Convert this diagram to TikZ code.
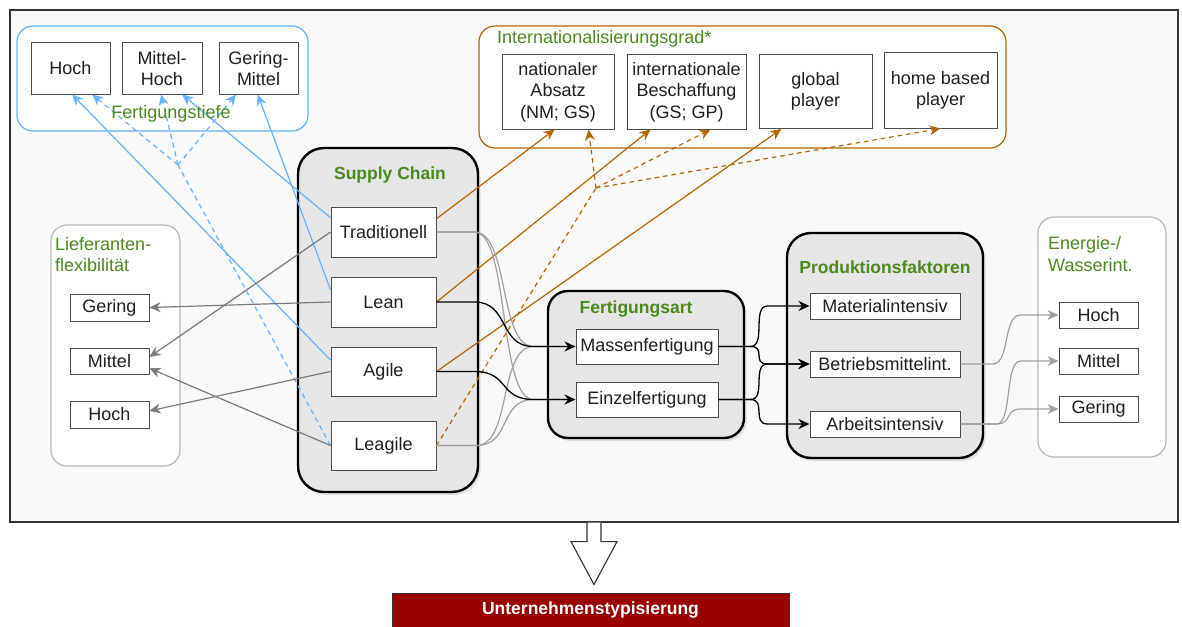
\documentclass[tikz,border=0pt]{standalone}
\usepackage{fontspec}
\setmainfont{Liberation Sans}
\usetikzlibrary{arrows.meta,calc,shadows}

\definecolor{frameFill}{HTML}{F9F9F9}
\definecolor{grpGreen}{HTML}{4A8A1E}
\definecolor{tiefeBlue}{HTML}{66B2FF}
\definecolor{intOrange}{HTML}{B46504}
\definecolor{lineGray}{HTML}{7A7A7A}
\definecolor{lightGray}{HTML}{A0A0A0}
\definecolor{grpBorder}{HTML}{B8B8B8}
\definecolor{scFill}{HTML}{E6E6E6}
\definecolor{boxText}{HTML}{1F1F1F}
\definecolor{resultRed}{HTML}{990000}

\tikzset{
  sz/.style 2 args={minimum width=#1pt, minimum height=#2pt},
  box/.style={draw=black!70, line width=1pt, fill=white, inner sep=1pt, align=center,
    text=boxText, font=\fontsize{18}{21.5}\selectfont},
  grpThin/.style={rounded corners=16pt, line width=1.2pt, fill=white, inner sep=0pt},
  grpThick/.style={rounded corners=24pt, draw=black, line width=2.4pt, fill=scFill, inner sep=0pt,
    drop shadow={shadow xshift=2.5pt, shadow yshift=-3pt, opacity=0.2}},
  grpTitle/.style={text=grpGreen, font=\bfseries\fontsize{17.5}{21}\selectfont, inner sep=0pt},
  grpLabel/.style={text=grpGreen, font=\fontsize{18}{21.5}\selectfont, inner sep=0pt, align=left},
  tip/.style={-{Stealth[length=11pt,width=10pt,inset=3.5pt]}},
  blueLine/.style={draw=tiefeBlue, line width=1.2pt},
  blueDash/.style={blueLine, dash pattern=on 5pt off 4pt},
  orangeLine/.style={draw=intOrange, line width=1.2pt},
  orangeDash/.style={orangeLine, dash pattern=on 4.5pt off 4pt},
  grayLine/.style={draw=lineGray, line width=1.2pt},
  softLine/.style={draw=lightGray, line width=1.2pt},
  blackLine/.style={draw=black, line width=1.3pt},
}

\begin{document}
\begin{tikzpicture}[x=1pt, y=-1pt]
\useasboundingbox (0,0) rectangle (1182,626);

% outer frame
\node[draw=black!80, line width=1.2pt, fill=frameFill, inner sep=0pt, sz={1168}{512}] (frame) at (594,266) {};

% group containers
\node[grpThin, draw=tiefeBlue, sz={291}{105}] (ft) at (162.5,78.5) {};
\node[grpThin, draw=grpBorder, sz={129}{241}] (lf) at (115.5,345.5) {};
\node[grpThin, draw=intOrange, sz={527}{122}] (ig) at (742.5,87) {};
\node[grpThin, draw=grpBorder, sz={128}{240}] (ew) at (1102,337) {};
\node[grpThick, rounded corners=26pt, sz={180}{344}] (sc) at (388,320) {};
\node[grpThick, rounded corners=20pt, sz={196}{147}] (fa) at (646,364.5) {};
\node[grpThick, sz={196}{225}] (pf) at (885,345.5) {};

% group titles
\node[grpTitle] at (390,175) {Supply Chain};
\node[grpTitle] at (636,309) {Fertigungsart};
\node[grpTitle] at (885,267) {Produktionsfaktoren};
\node[grpLabel, anchor=west] at (497,39) {Internationalisierungsgrad*};
\node[grpLabel, anchor=west] at (55,254.5) {Lieferanten-\\flexibilität};
\node[grpLabel, anchor=west] at (1048,254) {Energie-/\\Wasserint.};

% Fertigungstiefe
\node[box, sz={79}{51}] (ftHoch) at (70.5,68.5) {Hoch};
\node[box, sz={80}{51}] (ftMH) at (162,68.5) {Mittel-\\Hoch};
\node[box, sz={79}{51}] (ftGM) at (258.5,68.5) {Gering-\\Mittel};

% Lieferantenflexibilitaet
\node[box, sz={79}{27}] (lfGering) at (109.5,307.5) {Gering};
\node[box, sz={79}{26}] (lfMittel) at (109.5,361) {Mittel};
\node[box, sz={79}{27}] (lfHoch) at (109.5,414.5) {Hoch};

% Supply Chain
\node[box, sz={105}{50}] (trad) at (383.5,232) {Traditionell};
\node[box, sz={105}{50}] (lean) at (383.5,302) {Lean};
\node[box, sz={105}{49}] (agile) at (383.5,371.5) {Agile};
\node[box, sz={105}{49}] (leagile) at (383.5,445.5) {Leagile};

% Internationalisierungsgrad
\node[box, sz={112}{74}] (nat) at (558,92) {nationaler\\Absatz\\(NM; GS)};
\node[box, sz={119}{74}] (intb) at (686.5,92) {internationale\\Beschaffung\\(GS; GP)};
\node[box, sz={113}{74}] (glob) at (815.5,91.5) {global\\player};
\node[box, sz={113}{75}] (home) at (940.5,90.5) {home based\\player};

% Fertigungsart
\node[box, sz={142}{35}] (massen) at (647,346.5) {Massenfertigung};
\node[box, sz={142}{35}] (einzel) at (647,399.5) {Einzelfertigung};

% Produktionsfaktoren
\node[box, sz={150}{26}] (mat) at (885,306) {Materialintensiv};
\node[box, sz={150}{26}] (betr) at (885,364) {Betriebsmittelint.};
\node[box, sz={150}{26}] (arb) at (885,424) {Arbeitsintensiv};

% Energie-/Wasserintensitaet
\node[box, sz={79}{26}] (ewHoch) at (1098.5,315) {Hoch};
\node[box, sz={79}{26}] (ewMittel) at (1098.5,361) {Mittel};
\node[box, sz={79}{26}] (ewGering) at (1098.5,409) {Gering};

% Fertigungstiefe connectors
\draw[blueLine, tip] ($(agile.north west)!0.27!(agile.south west)$) -- ($(ftHoch.south west)!0.52!(ftHoch.south east)$);
\draw[blueLine, tip] ($(trad.north west)!0.22!(trad.south west)$) -- ($(ftMH.south west)!0.75!(ftMH.south east)$);
\draw[blueLine, tip] ($(lean.north west)!0.26!(lean.south west)$) -- ($(ftGM.south west)!0.49!(ftGM.south east)$);
\coordinate (tiefeJoin) at (178,165);
\draw[blueDash] (leagile.west) -- (tiefeJoin);
\draw[blueDash, tip] (tiefeJoin) -- ($(ftHoch.south west)!0.77!(ftHoch.south east)$);
\draw[blueDash, tip] (tiefeJoin) -- ($(ftMH.south west)!0.49!(ftMH.south east)$);
\draw[blueDash, tip] (tiefeJoin) -- ($(ftGM.south west)!0.22!(ftGM.south east)$);
\node[grpLabel] at (171,114) {Fertigungstiefe};

% Internationalisierungsgrad connectors
\draw[orangeLine, tip] ($(trad.north east)!0.24!(trad.south east)$) -- ($(nat.south west)!0.47!(nat.south east)$);
\draw[orangeLine, tip] (lean.east) -- ($(intb.south west)!0.2!(intb.south east)$);
\draw[orangeLine, tip] (agile.east) -- ($(glob.south west)!0.2!(glob.south east)$);
\coordinate (intJoin) at (596,188);
\draw[orangeDash] (leagile.east) -- (intJoin);
\draw[orangeDash, tip] (intJoin) -- ($(nat.south west)!0.77!(nat.south east)$);
\draw[orangeDash, tip] (intJoin) -- ($(intb.south west)!0.7!(intb.south east)$);
\draw[orangeDash, tip] (intJoin) -- ($(home.south west)!0.5!(home.south east)$);

% Lieferantenflexibilitaet connectors
\draw[grayLine, tip] (lean.west) -- (lfGering.east);
\draw[grayLine, tip] (trad.west) -- ($(lfMittel.north east)!0.35!(lfMittel.south east)$);
\draw[grayLine, tip] (leagile.west) -- ($(lfMittel.north east)!0.77!(lfMittel.south east)$);
\draw[grayLine, tip] (agile.west) -- ($(lfHoch.north east)!0.37!(lfHoch.south east)$);

% Supply Chain -> Fertigungsart
\draw[softLine] (trad.east) -- ++(38,0) .. controls +(35,0) and +(-35,0) .. ($(massen.west)+(-42,0)$) -- ($(massen.west)+(-10,0)$);
\draw[softLine] (trad.east) -- ++(38,0) .. controls +(35,0) and +(-35,0) .. ($(einzel.west)+(-42,0)$) -- ($(einzel.west)+(-10,0)$);
\draw[softLine] (leagile.east) -- ++(40,0) .. controls +(35,0) and +(-35,0) .. ($(massen.west)+(-42,0)$) -- ($(massen.west)+(-10,0)$);
\draw[softLine] (leagile.east) -- ++(40,0) .. controls +(35,0) and +(-35,0) .. ($(einzel.west)+(-42,0)$) -- ($(einzel.west)+(-10,0)$);
\draw[blackLine, tip] (lean.east) -- ++(38,0) .. controls +(35,0) and +(-35,0) .. ($(massen.west)+(-42,0)$) -- (massen.west);
\draw[blackLine, tip] (agile.east) -- ++(38,0) .. controls +(35,0) and +(-35,0) .. ($(einzel.west)+(-42,0)$) -- (einzel.west);

% Fertigungsart -> Produktionsfaktoren
\draw[blackLine, tip] (massen.east) -- ++(32,0) .. controls +(16,0) and +(-16,0) .. ($(mat.west)+(-42,0)$) -- (mat.west);
\draw[blackLine, tip] (massen.east) -- ++(32,0) .. controls +(16,0) and +(-16,0) .. ($(betr.west)+(-42,0)$) -- (betr.west);
\draw[blackLine, tip] (einzel.east) -- ++(32,0) .. controls +(16,0) and +(-16,0) .. ($(betr.west)+(-42,0)$) -- (betr.west);
\draw[blackLine, tip] (einzel.east) -- ++(32,0) .. controls +(16,0) and +(-16,0) .. ($(arb.west)+(-42,0)$) -- (arb.west);

% Produktionsfaktoren -> Energie-/Wasserintensitaet
\draw[softLine, tip] (betr.east) -- ++(32,0) .. controls +(18,0) and +(-18,0) .. ($(ewHoch.west)+(-38,0)$) -- (ewHoch.west);
\draw[softLine, tip] (arb.east) -- ++(36,0) .. controls +(16,0) and +(-16,0) .. ($(ewMittel.west)+(-38,0)$) -- (ewMittel.west);
\draw[softLine, tip] (arb.east) -- ++(36,0) .. controls +(16,0) and +(-16,0) .. ($(ewGering.west)+(-38,0)$) -- (ewGering.west);

% result
\node[draw=black!80, line width=1pt, fill=resultRed, text=white, inner sep=0pt,
      font=\bfseries\fontsize{17.5}{21}\selectfont, sz={397}{34}] (result) at (590.5,610) {Unternehmenstypisierung};
\draw[draw=black!80, line width=1.1pt, fill=white]
  ($(frame.south)+(-7,0)$) -- ++(0,19) -- ++(-16,0) -- ($(result.north)+(3.5,-8)$)
  -- ($(frame.south)+(23,19)$) -- ++(-16,0) -- ($(frame.south)+(7,0)$);
\end{tikzpicture}
\end{document}
